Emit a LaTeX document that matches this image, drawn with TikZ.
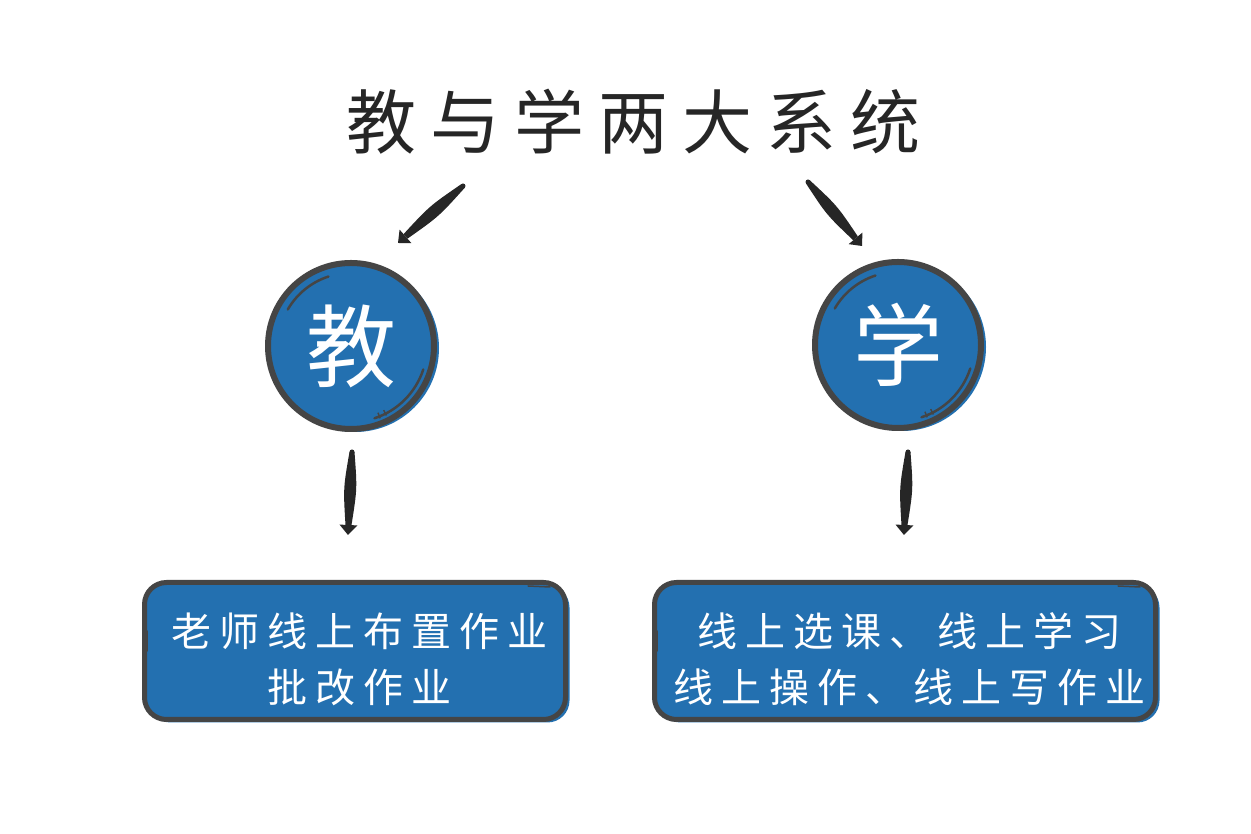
\documentclass[tikz,border=0pt]{standalone}
\usepackage{fontspec}
\newfontfamily\cjk[LetterSpace=20]{Noto Sans CJK SC}
\newfontfamily\cjkp{Noto Sans CJK SC}
\usetikzlibrary{calc}
\definecolor{bl}{HTML}{2370B0}
\definecolor{ring}{HTML}{454545}
\definecolor{ink}{HTML}{262626}
\newcommand\taperarrow[2]{%
  \coordinate (tA) at (#1); \coordinate (tB) at (#2);
  \coordinate (tC) at ($(tB)!10pt!(tA)$);
  \coordinate (tM) at ($(tA)!0.5!(tC)$);
  \fill[ink] ($(tA)!2.5pt!90:(tC)$) .. controls ($(tM)!7pt!90:(tC)$) .. ($(tC)!3pt!-90:(tA)$)
     -- ($(tC)!3pt!90:(tA)$) .. controls ($(tM)!7pt!-90:(tC)$) .. ($(tA)!2.5pt!-90:(tC)$)
     arc[start angle=0, end angle=0, radius=0] -- cycle;
  \fill[ink] (tA) circle[radius=2.5pt];
  \fill[ink] (tB) -- ($(tC)!9pt!90:(tA)$) -- ($(tC)!9pt!-90:(tA)$) -- cycle;
}
\tikzset{
  bubble/.style={circle, minimum size=166pt, inner sep=0pt, fill=bl, draw=ring, line width=6pt,
    text=white, font=\cjkp\fontsize{90}{90}\selectfont},
  tbox/.style={rectangle, rounded corners=22pt, minimum height=137pt, inner sep=0pt, fill=bl,
    draw=ring, line width=5pt, text=white, align=center, font=\cjk\fontsize{40}{56}\selectfont},
  sketch/.style={draw=ring, line width=2.5pt, line cap=round}
}
\begin{document}
\begin{tikzpicture}[x=1pt,y=1pt]
\useasboundingbox (0,0) rectangle (1251,834);
\fill[white] (0,0) rectangle (1251,834);
% title
\node (title) at (626,712) {\color{ink}\cjk\fontsize{70}{70}\selectfont 教与学两大系统\kern-.2em};
% circles
\fill[bl] (355,486) circle[radius=84];
\node[bubble] (teach) at (351,488) {教};
\fill[bl] (902,487) circle[radius=84];
\node[bubble] (learn) at (898,489) {学};
\foreach \c in {teach,learn}{
  \draw[sketch] ($(\c.center)+(108:73)$) arc[start angle=108, end angle=150, radius=73];
  \draw[sketch] ($(\c.center)+(-18:76)$) arc[start angle=-18, end angle=-72, radius=76];
  \draw[ring, line width=1.5pt] ($(\c.center)+(-63:72)$) -- ($(\c.center)+(-63:78)$);
  \draw[ring, line width=1.5pt] ($(\c.center)+(-68:72)$) -- ($(\c.center)+(-68:78)$);
}
% arrows
\coordinate (a1s) at (463,648); \coordinate (a1e) at (398,591);
\coordinate (a2s) at (808,652); \coordinate (a2e) at (862,588);
\coordinate (a3s) at (352,382); \coordinate (a3e) at (348,299);
\coordinate (a4s) at (908,382); \coordinate (a4e) at (904,299);
\taperarrow{a1s}{a1e}
\taperarrow{a2s}{a2e}
\taperarrow{a3s}{a3e}
\taperarrow{a4s}{a4e}
% boxes
\fill[bl, rounded corners=22pt] (148.5,111.5) rectangle (569.5,248.5);
\node[tbox, minimum width=421pt] (tb) at (355,183) {\rule{0pt}{50pt}老师线上布置作业\kern-.2em\\批改作业\kern-.2em};
\fill[bl, rounded corners=22pt] (658.5,111.5) rectangle (1159.5,248.5);
\node[tbox, minimum width=501pt] (lb) at (905,183) {\rule{0pt}{50pt}线上选课、线上学习\kern-.2em\\线上操作、线上写作业\kern-.2em};
\draw[ring, line width=1.5pt, line cap=round] ($(tb.north east)+(-40,-6)$) -- ($(tb.north east)+(-18,-7)$);
\draw[ring, line width=1.5pt, line cap=round] ($(lb.north east)+(-40,-6)$) -- ($(lb.north east)+(-18,-7)$);
\draw[ring, line width=1.5pt, line cap=round] ($(tb.west)+(5,20)$) -- ($(tb.west)+(5,0)$);
\draw[ring, line width=1.5pt, line cap=round] ($(lb.west)+(5,20)$) -- ($(lb.west)+(5,0)$);
\end{tikzpicture}
\end{document}
